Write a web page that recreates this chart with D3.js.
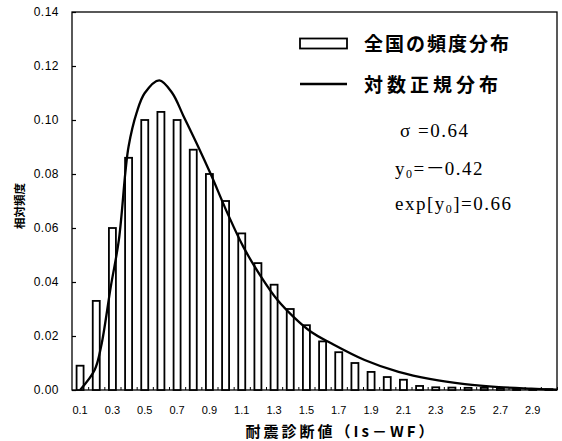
<!DOCTYPE html>
<html>
<head>
<meta charset="utf-8">
<script src="https://cdn.jsdelivr.net/npm/d3@7"></script>
<style>
  body { margin: 0; background: #fff; }
  svg { display: block; }
  .num { font-family: "Liberation Sans", Arial, sans-serif; }
  .jp { font-family: "Noto Sans CJK JP", sans-serif; }
  .serif { font-family: "Liberation Serif", "Times New Roman", serif; }
</style>
</head>
<body>
<svg width="562" height="441"></svg>
<script>
// bin centres (Is-WF) and relative frequency
const bins = [0.1, 0.2, 0.3, 0.4, 0.5, 0.6, 0.7, 0.8, 0.9, 1.0,
              1.1, 1.2, 1.3, 1.4, 1.5, 1.6, 1.7, 1.8, 1.9, 2.0,
              2.1, 2.2, 2.3, 2.4, 2.5, 2.6, 2.7, 2.8, 2.9, 3.0];
const freq = [0.009, 0.033, 0.060, 0.086, 0.100, 0.103, 0.100, 0.089, 0.080, 0.070,
              0.058, 0.047, 0.039, 0.030, 0.024, 0.018, 0.014, 0.010, 0.0067, 0.0048,
              0.0038, 0.0015, 0.0010, 0.0009, 0.0008, 0.0008, 0.0007, 0.0004, 0.0004, 0.0003];

// lognormal curve
const curveX = [0.1, 0.19, 0.23, 0.29, 0.34, 0.38, 0.40, 0.45, 0.50, 0.59,
                0.67, 0.74, 0.83, 0.91, 1.01, 1.11, 1.22, 1.32, 1.42, 1.53,
                1.65, 1.86, 2.07, 2.27, 2.48, 2.69, 2.89, 3.05];
const curveY = [0.000, 0.0074, 0.0161, 0.0383, 0.0556, 0.0805, 0.0902, 0.1027, 0.110, 0.1147,
                0.110, 0.1014, 0.0902, 0.0797, 0.0657, 0.053, 0.0419, 0.0334, 0.0271, 0.0215,
                0.0174, 0.0111, 0.0067, 0.0040, 0.0022, 0.0011, 0.0005, 0.0001];

const yTicks = [0, 0.02, 0.04, 0.06, 0.08, 0.10, 0.12, 0.14];
const xTicks = [0.1, 0.3, 0.5, 0.7, 0.9, 1.1, 1.3, 1.5, 1.7, 1.9, 2.1, 2.3, 2.5, 2.7, 2.9];

const svg = d3.select("svg");
const plot = {left: 72, right: 557, top: 12, bottom: 390};

const x = d3.scaleLinear().domain([0.05, 3.05]).range([plot.left, plot.right]);
const y = d3.scaleLinear().domain([0, 0.14]).range([plot.bottom, plot.top]);
const barW = 7;

// frame
svg.append("rect")
    .attr("x", plot.left).attr("y", plot.top)
    .attr("width", plot.right - plot.left).attr("height", plot.bottom - plot.top)
    .attr("fill", "none").attr("stroke", "#000").attr("stroke-width", 1.3);

// y axis
const yAxis = svg.append("g")
    .attr("transform", `translate(${plot.left},0)`)
    .call(d3.axisRight(y).tickValues(yTicks).tickSize(4).tickFormat(""));
yAxis.select(".domain").remove();
yAxis.selectAll("line").attr("stroke-width", 1.2);

svg.append("g").selectAll("text")
    .data(yTicks)
    .enter().append("text")
    .attr("class", "num")
    .attr("x", 59)
    .attr("y", d => y(d) + 4)
    .attr("text-anchor", "end")
    .style("font-size", "12px")
    .style("letter-spacing", "0.5px")
    .text(d => d.toFixed(2));

// x axis: small ticks between bins, labels on odd bins
const xAxis = svg.append("g")
    .attr("transform", `translate(0,${plot.bottom})`)
    .call(d3.axisTop(x).tickValues(bins.map(b => b + 0.05)).tickSize(3).tickFormat(""));
xAxis.select(".domain").remove();

svg.append("g").selectAll("text")
    .data(xTicks)
    .enter().append("text")
    .attr("class", "num")
    .attr("x", d => x(d))
    .attr("y", 414)
    .attr("text-anchor", "middle")
    .style("font-size", "11px")
    .text(d => d.toFixed(1));

// bars
svg.append("g").selectAll("rect")
    .data(bins)
    .enter().append("rect")
    .attr("x", d => x(d) - barW / 2)
    .attr("y", (d, i) => y(freq[i]))
    .attr("width", barW)
    .attr("height", (d, i) => plot.bottom - y(freq[i]))
    .attr("fill", "#fff")
    .attr("stroke", "#000")
    .attr("stroke-width", 1.8);

// curve
const line = d3.line()
    .x(d => x(d[0]))
    .y(d => y(d[1]))
    .curve(d3.curveCatmullRom);
svg.append("path")
    .datum(d3.zip(curveX, curveY))
    .attr("d", line)
    .attr("fill", "none")
    .attr("stroke", "#000")
    .attr("stroke-width", 2.3);

// legend
svg.append("rect")
    .attr("x", 300).attr("y", 38.5).attr("width", 47).attr("height", 10)
    .attr("fill", "#fff").attr("stroke", "#000").attr("stroke-width", 1.8);
svg.append("text")
    .attr("class", "jp")
    .attr("x", 364).attr("y", 51)
    .style("font-size", "19px").style("font-weight", "bold").style("letter-spacing", "2px")
    .text("全国の頻度分布");
svg.append("line")
    .attr("x1", 300).attr("x2", 347).attr("y1", 84).attr("y2", 84)
    .attr("stroke", "#000").attr("stroke-width", 2.5);
svg.append("text")
    .attr("class", "jp")
    .attr("x", 364).attr("y", 92)
    .style("font-size", "19px").style("font-weight", "bold").style("letter-spacing", "4px")
    .text("対数正規分布");

// parameters
const params = svg.append("g").attr("class", "serif")
    .style("font-size", "19px").style("letter-spacing", "1.5px");
params.append("text").attr("x", 400).attr("y", 137).text("σ =0.64");
const t2 = params.append("text").attr("x", 395).attr("y", 175);
t2.append("tspan").text("y");
t2.append("tspan").attr("dy", 3).style("font-size", "12px").text("0");
t2.append("tspan").attr("dy", -3).text("=");
t2.append("tspan").attr("class", "jp").style("letter-spacing", "0px").text("－");
t2.append("tspan").text("0.42");
const t3 = params.append("text").attr("x", 395).attr("y", 210);
t3.append("tspan").text("exp[y");
t3.append("tspan").attr("dy", 3).style("font-size", "12px").text("0");
t3.append("tspan").attr("dy", -3).text("]=0.66");

// axis titles
svg.append("text")
    .attr("class", "jp")
    .attr("x", 341).attr("y", 437)
    .attr("text-anchor", "middle")
    .style("font-size", "15px").style("font-weight", "bold").style("letter-spacing", "3px")
    .text("耐震診断値（Is－WF）");
svg.append("text")
    .attr("class", "jp")
    .attr("transform", "translate(24,206) rotate(-90)")
    .attr("text-anchor", "middle")
    .style("font-size", "11.5px").style("font-weight", "bold")
    .text("相対頻度");
</script>
</body>
</html>
